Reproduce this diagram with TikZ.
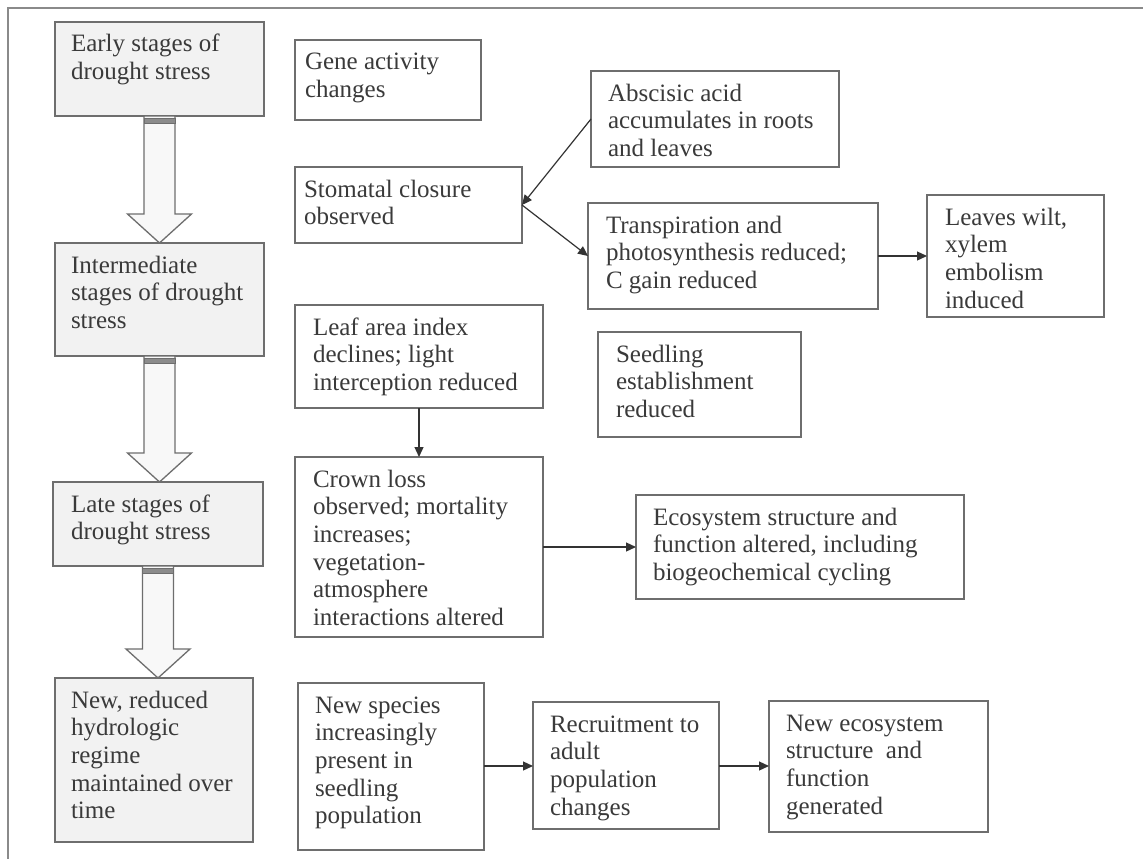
\documentclass[tikz,border=0pt]{standalone}
\usepackage{fontspec}
\setmainfont{Liberation Serif}
\usetikzlibrary{arrows.meta,calc}
\definecolor{txtc}{HTML}{3A3A3A}
\definecolor{linec}{HTML}{6E6E6E}
\definecolor{framec}{HTML}{8A8A8A}
\definecolor{stagefill}{HTML}{F2F2F2}
\definecolor{arrowfill}{HTML}{F8F8F8}
\tikzset{
  box/.style={draw=linec, line width=1.3pt, fill=white, inner sep=0pt, outer sep=0pt, rectangle, anchor=north west},
  stagebox/.style={box, fill=stagefill},
  txt/.style={inner sep=0pt, outer sep=0pt, anchor=base west, text=txtc, font=\fontsize{25}{27.7}\selectfont},
  conn/.style={draw=black!80, line width=1.2pt, -{Triangle[length=10pt,width=9pt]}},
  barrow/.style={draw=linec, line width=1.3pt, fill=arrowfill, line join=miter},
  band/.style={draw=linec, line width=0.8pt, fill=black!45},
  framel/.style={draw=framec, line width=1.4pt},
}
% name, style, x1, y1, x2, y2, text offset, text
\newcommand\mkbox[8]{%
  \node[#2, minimum width={(#5-#3)*1pt}, minimum height={(#6-#4)*1pt}] (#1) at (#3,#4) {};
  \node[txt] (#1t) at ($(#1.north west)+(#7,30)$) {\parbox[t]{400pt}{\raggedright #8}};
}
% from, to
\newcommand\blockarr[2]{%
  \draw[barrow] ($(#1.south)+(-15.5,0)$) -- ($(#1.south |- #2.north)+(-15.5,-29)$)
    -- ($(#1.south |- #2.north)+(-32,-29)$) -- (#1.south |- #2.north)
    -- ($(#1.south |- #2.north)+(32,-29)$) -- ($(#1.south |- #2.north)+(15.5,-29)$)
    -- ($(#1.south)+(15.5,0)$) -- cycle;
  \draw[band] ($(#1.south)+(-15.5,2)$) rectangle ($(#1.south)+(15.5,7)$);
}
\begin{document}
\begin{tikzpicture}[x=1pt,y=-1pt]
\useasboundingbox (0,0) rectangle (1143,859);
\fill[white] (0,0) rectangle (1143,859);
\coordinate (fa) at (8,859);
\coordinate (fb) at (8,8);
\coordinate (fc) at (1143,8);
\draw[framel] (fa) -- (fb) -- (fc);

\mkbox{early}{stagebox}{55}{22}{264}{116}{16}{Early stages of\\drought stress}
\mkbox{inter}{stagebox}{55}{243}{264}{356}{16}{Intermediate\\stages of drought\\stress}
\mkbox{late}{stagebox}{53}{482}{263}{566}{18}{Late stages of\\drought stress}
\mkbox{newreg}{stagebox}{55}{678}{253}{842}{16}{New, reduced\\hydrologic\\regime\\maintained over\\time}

\mkbox{gene}{box}{295}{40}{481}{120}{10}{Gene activity\\changes}
\mkbox{abs}{box}{591}{71}{839}{167}{17}{Abscisic acid\\accumulates in roots\\and leaves}
\mkbox{stom}{box}{295}{167}{522}{243}{9}{Stomatal closure\\observed}
\mkbox{trans}{box}{588}{203}{878}{309}{18}{Transpiration and\\photosynthesis reduced;\\C gain reduced}
\mkbox{leaves}{box}{927}{195}{1104}{317}{18}{Leaves wilt,\\xylem\\embolism\\induced}
\mkbox{leaf}{box}{295}{305}{543}{408}{18}{Leaf area index\\declines; light\\interception reduced}
\mkbox{seed}{box}{598}{332}{801}{437}{18}{Seedling\\establishment\\reduced}
\mkbox{crown}{box}{295}{457}{543}{637}{18}{Crown loss\\observed; mortality\\increases;\\vegetation-\\atmosphere\\interactions altered}
\mkbox{eco}{box}{636}{495}{964}{599}{17}{Ecosystem structure and\\function altered, including\\biogeochemical cycling}
\mkbox{newsp}{box}{298}{683}{484}{850}{17}{New species\\increasingly\\present in\\seedling\\population}
\mkbox{recruit}{box}{533}{702}{719}{829}{17}{Recruitment to\\adult\\population\\changes}
\mkbox{neweco}{box}{769}{701}{988}{832}{17}{New ecosystem\\structure\ \ and\\function\\generated}

\blockarr{early}{inter}
\blockarr{inter}{late}
\blockarr{late}{newreg}

\draw[conn] (abs.west) -- (stom.east);
\draw[conn] (stom.east) -- (trans.west);
\draw[conn] (trans.east) -- (trans.east -| leaves.west);
\draw[conn] (leaf.south -| 419,0) -- (crown.north -| 419,0);
\draw[conn] (crown.east) -- (crown.east -| eco.west);
\draw[conn] (newsp.east |- 0,766) -- (recruit.west |- 0,766);
\draw[conn] (recruit.east |- 0,766) -- (neweco.west |- 0,766);
\end{tikzpicture}
\end{document}
